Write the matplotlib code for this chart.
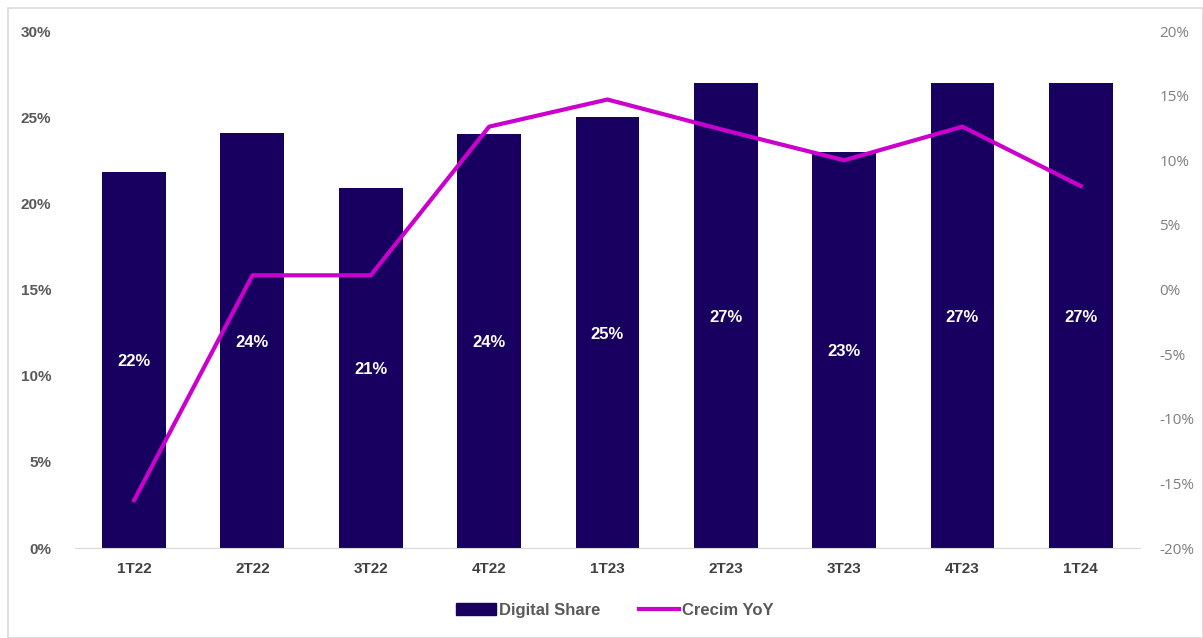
import matplotlib
matplotlib.use("Agg")
import matplotlib.pyplot as plt
from matplotlib.patches import Rectangle
from matplotlib.lines import Line2D
from matplotlib.ticker import FuncFormatter

categories = ["1T22", "2T22", "3T22", "4T22", "1T23", "2T23", "3T23", "4T23", "1T24"]
digital_share = [21.8, 24.1, 20.9, 24.0, 25.0, 27.0, 23.0, 27.0, 27.0]
share_labels = ["22%", "24%", "21%", "24%", "25%", "27%", "23%", "27%", "27%"]
crecim_yoy = [-16.3, 1.1, 1.1, 12.6, 14.7, 12.3, 10.0, 12.6, 8.0]

bar_color = "#170060"
line_color = "#CC00CC"

plt.rcParams["font.family"] = ["Liberation Sans", "DejaVu Sans"]

fig = plt.figure(figsize=(12.03, 6.38), dpi=100)
ax = fig.add_axes([0.0623, 0.141, 0.8853, 0.8104])
x = list(range(len(categories)))
ax.bar(x, digital_share, width=0.54, color=bar_color, zorder=2)
for xi, v, lab in zip(x, digital_share, share_labels):
    ax.text(xi, v / 2 - 0.1, lab, ha="center", va="center", color="white",
            fontsize=12, fontweight="bold", zorder=3)
ax.set_xlim(-0.5, len(categories) - 0.5)
ax.set_ylim(0, 30)
ax.set_yticks([0, 5, 10, 15, 20, 25, 30])
ax.yaxis.set_major_formatter(FuncFormatter(lambda v, p: f"{v:.0f}%"))
ax.set_xticks(x)
ax.set_xticklabels(categories)
for s in ["top", "right", "left"]:
    ax.spines[s].set_visible(False)
ax.spines["bottom"].set_color("#d9d9d9")
ax.tick_params(axis="both", length=0)
ax.tick_params(axis="y", pad=17, labelsize=11, labelcolor="#595959")
ax.tick_params(axis="x", pad=10, labelsize=11, labelcolor="#404040")
for t in ax.get_yticklabels() + ax.get_xticklabels():
    t.set_fontweight("bold")

ax2 = ax.twinx()
ax2.plot(x, crecim_yoy, color=line_color, linewidth=3, zorder=4)
ax2.set_ylim(-20, 20)
ax2.set_yticks(list(range(-20, 25, 5)))
ax2.yaxis.set_major_formatter(FuncFormatter(lambda v, p: f"{v:.0f}%"))
for s in ["top", "right", "left", "bottom"]:
    ax2.spines[s].set_visible(False)
ax2.tick_params(axis="y", length=0, pad=14, labelsize=11, labelcolor="#7f7f7f")
for t in ax2.get_yticklabels():
    t.set_fontfamily(["Open Sans", "DejaVu Sans"])

handles = [Rectangle((0, 0), 1, 1, color=bar_color),
           Line2D([0], [0], color=line_color, linewidth=3)]
leg = fig.legend(handles, ["Digital Share", "Crecim YoY"], loc="center",
                 bbox_to_anchor=(0.511, 0.043), ncol=2, frameon=False,
                 handlelength=2.4, handletextpad=0.2, columnspacing=2.3,
                 prop={"size": 12, "weight": "bold"})
for t in leg.get_texts():
    t.set_color("#595959")

border = Rectangle((0.007, 0.0), 0.993, 0.988, transform=fig.transFigure,
                   fill=False, edgecolor="#d9d9d9", linewidth=1.2)
fig.patches.append(border)

fig.savefig("out.png", dpi=100)
